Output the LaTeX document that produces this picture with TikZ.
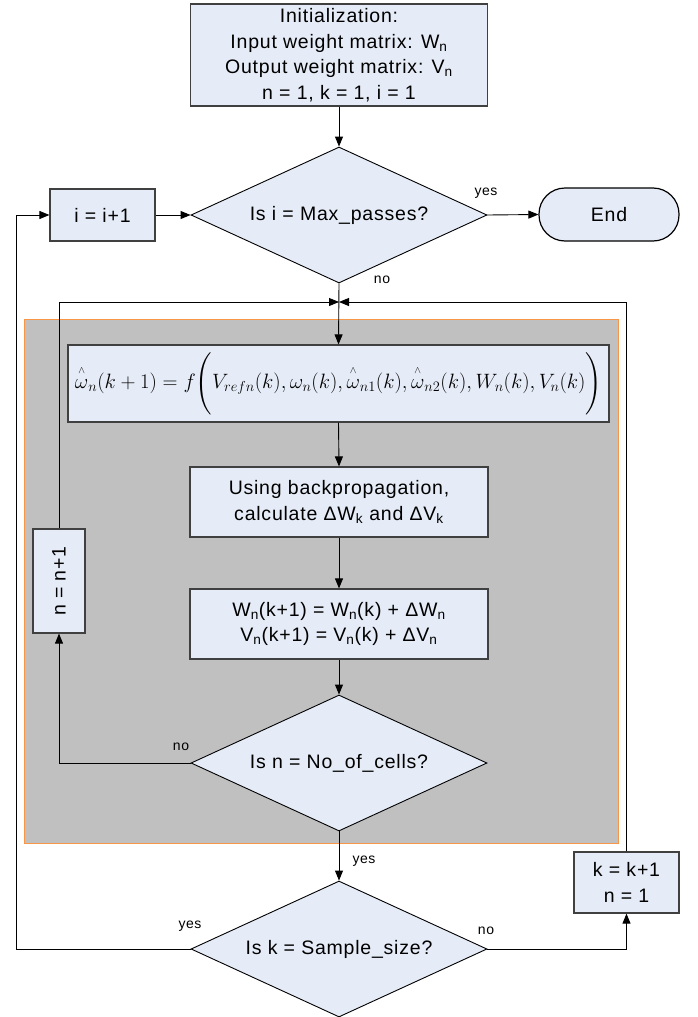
\documentclass[tikz,border=0pt]{standalone}
\usepackage{amsmath}
\usepackage[no-math]{fontspec}
\usepackage{graphicx}
\setmainfont{Liberation Sans}[LetterSpace=4]
\usetikzlibrary{shapes.geometric,arrows.meta}
\definecolor{boxfill}{RGB}{230,236,247}
\definecolor{boxline}{RGB}{64,64,64}
\definecolor{grayarea}{RGB}{192,192,192}
\definecolor{orangeline}{RGB}{247,150,70}
\newcommand{\wh}[1]{\overset{\raisebox{2.5pt}{$\scriptscriptstyle\wedge$}}{#1}}
\begin{document}
\begin{tikzpicture}[x=1pt,y=-1pt,
  every node/.style={font=\fontsize{19.5}{25.5}\selectfont, inner sep=0pt},
  box/.style={draw=boxline, fill=boxfill, line width=1.2pt, align=center},
  dia/.style={diamond, draw=black, fill=boxfill, line width=0.9pt, minimum width=296pt, minimum height=136pt},
  lbl/.style={font=\fontsize{14}{16}\selectfont},
  conn/.style={line width=0.9pt, -{Triangle[length=10pt,width=8pt]}}]
\useasboundingbox (0,0) rectangle (697,1017);
\fill[grayarea, draw=orangeline, line width=1pt] (24,319) rectangle (618,843);

\node[box, minimum width=297pt, minimum height=102pt] (init) at (339,55)
  {Initialization:\\Input weight matrix: W\textsubscript{n}\\Output weight matrix: V\textsubscript{n}\\n = 1, k = 1, i = 1};
\node[dia] (d1) at (339,215) {};
\node (d1t) at (d1.center) {Is i = Max\_passes?};
\node[box, minimum width=105pt, minimum height=52pt] (inc) at (102.5,215) {i = i+1};
\node[box, draw=black, rounded corners=26pt, minimum width=140pt, minimum height=53pt] (end) at (609,214.5) {End};
\coordinate (J) at (339,302);
\coordinate (L1) at (16,949);
\node[box, minimum width=541pt, minimum height=77pt] (form) at (338.5,383.5)
  {\resizebox{527pt}{!}{$\wh{\omega}_n(k+1)=f\Biggl(V_{refn}(k),\omega_n(k),\wh{\omega}_{n1}(k),\wh{\omega}_{n2}(k),W_n(k),V_n(k)\Biggr)$}};
\node[box, minimum width=298pt, minimum height=70pt] (bp) at (339,502)
  {Using backpropagation,\\calculate ΔW\textsubscript{k} and ΔV\textsubscript{k}};
\node[box, minimum width=298pt, minimum height=70pt] (upd) at (339,624)
  {W\textsubscript{n}(k+1) = W\textsubscript{n}(k) + ΔW\textsubscript{n}\\V\textsubscript{n}(k+1) = V\textsubscript{n}(k) + ΔV\textsubscript{n}};
\node[dia] (d2) at (339,763) {};
\node (d2t) at (d2.center) {Is n = No\_of\_cells?};
\node[box, minimum width=52pt, minimum height=104pt] (ninc) at (59,581) {\rotatebox{90}{n = n+1}};
\node[dia] (d3) at (339,949) {};
\node (d3t) at (d3.center) {Is k = Sample\_size?};
\node[box, minimum width=105pt, minimum height=61pt] (kinc) at (626.5,882.5) {k = k+1\\n = 1};

\draw[conn] (init.south) -- (d1.north);
\draw[conn] (inc.east) -- (d1.west);
\draw[conn] (d1.east) -- (end.west);
\draw[conn] (L1) |- (inc.west);
\draw[line width=0.9pt] (d3.west) -- (L1);
\draw[conn] (d1.south) -- (form.north);
\draw[conn] (ninc.north) |- (J);
\draw[conn] (kinc.north) |- (J);
\draw[conn] (form.south) -- (bp.north);
\draw[conn] (bp.south) -- (upd.north);
\draw[conn] (upd.south) -- (d2.north);
\draw[conn] (d2.south) -- (d3.north);
\draw[conn] (d2.west) -| (ninc.south);
\draw[conn] (d3.east) -| (kinc.south);

\node[lbl] at (486,193) {yes};
\node[lbl] at (382,280) {no};
\node[lbl] at (181,747) {no};
\node[lbl] at (364,861) {yes};
\node[lbl] at (190,926) {yes};
\node[lbl] at (486,931) {no};
\end{tikzpicture}
\end{document}
